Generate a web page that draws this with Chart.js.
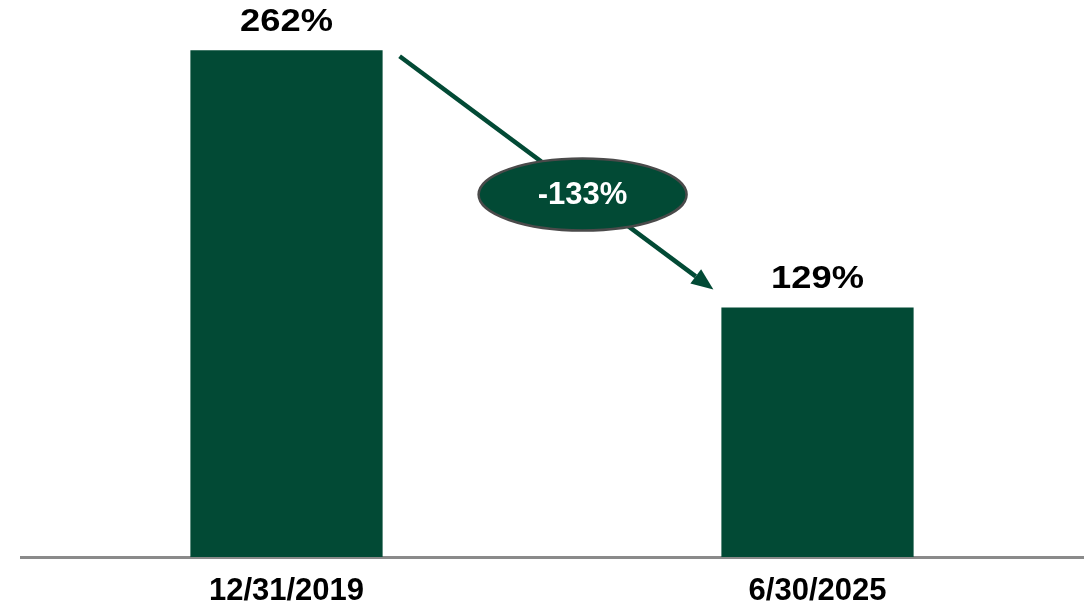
<!DOCTYPE html>
<html>
<head>
<meta charset="utf-8">
<script src="https://cdn.jsdelivr.net/npm/chart.js@4"></script>
<style>
html,body{margin:0;padding:0;background:#fff;}
#wrap{width:1086px;height:603px;}
</style>
</head>
<body>
<div id="wrap"><canvas id="c" width="1086" height="603"></canvas></div>
<script>
const categories = ["12/31/2019", "6/30/2025"];
const values = [262, 129];
const valueLabels = ["262%", "129%"];
const changeLabel = "-133%";

const green = "#024a35";

const overlay = {
  id: "overlay",
  afterDatasetsDraw(chart) {
    const ctx = chart.ctx;
    const meta = chart.getDatasetMeta(0);
    const y = chart.scales.y;
    ctx.save();
    // value labels (wide bold)
    ctx.fillStyle = "#000";
    ctx.font = "bold 31px 'Liberation Sans', Arial, sans-serif";
    ctx.textAlign = "center";
    ctx.textBaseline = "middle";
    meta.data.forEach((bar, i) => {
      const ly = y.getPixelForValue(values[i]) - 28;
      ctx.save();
      ctx.translate(bar.x, ly);
      ctx.scale(1.17, 1);
      ctx.fillText(valueLabels[i], 0, 0);
      ctx.restore();
    });
    // arrow
    const b1 = meta.data[0], b2 = meta.data[1];
    const x1 = b1.x + b1.width / 2 + 17, y1 = y.getPixelForValue(values[0]) + 6;
    const x2 = b2.x - b2.width / 2 - 8, y2 = y.getPixelForValue(values[1]) - 18;
    const ang = Math.atan2(y2 - y1, x2 - x1);
    const headLen = 22, headW = 9;
    const bx = x2 - headLen * Math.cos(ang), by = y2 - headLen * Math.sin(ang);
    ctx.strokeStyle = green;
    ctx.lineWidth = 4.5;
    ctx.beginPath();
    ctx.moveTo(x1, y1);
    ctx.lineTo(bx, by);
    ctx.stroke();
    ctx.fillStyle = green;
    ctx.beginPath();
    ctx.moveTo(x2, y2);
    ctx.lineTo(bx + headW * Math.sin(ang), by - headW * Math.cos(ang));
    ctx.lineTo(bx - headW * Math.sin(ang), by + headW * Math.cos(ang));
    ctx.closePath();
    ctx.fill();
    // ellipse
    const t = 0.58;
    const cx = x1 + (x2 - x1) * t + 1, cy = y1 + (y2 - y1) * t + 3;
    ctx.beginPath();
    ctx.ellipse(cx, cy, 104, 36, 0, 0, Math.PI * 2);
    ctx.fillStyle = green;
    ctx.fill();
    ctx.strokeStyle = "#4a4a4a";
    ctx.lineWidth = 2.5;
    ctx.stroke();
    ctx.fillStyle = "#fff";
    ctx.font = "bold 31px 'Liberation Sans', Arial, sans-serif";
    ctx.fillText(changeLabel, cx, cy + 1);
    ctx.restore();
  }
};

new Chart(document.getElementById("c"), {
  type: "bar",
  data: {
    labels: categories,
    datasets: [{
      data: values,
      backgroundColor: green,
      borderWidth: 0,
      barPercentage: 0.362,
      categoryPercentage: 1.0
    }]
  },
  options: {
    responsive: false,
    animation: false,
    layout: { padding: { left: 21, right: 3, top: 0, bottom: 0 } },
    plugins: { legend: { display: false }, tooltip: { enabled: false } },
    scales: {
      x: {
        grid: { display: false, drawTicks: false },
        border: { display: true, color: "#8a8a8a", width: 3 },
        afterFit: (scale) => { scale.height = 46; },
        ticks: {
          color: "#000",
          padding: 16,
          font: { family: "'Liberation Sans', Arial, sans-serif", weight: "bold", size: 31 }
        }
      },
      y: {
        display: false,
        min: 0,
        max: 288
      }
    }
  },
  plugins: [overlay]
});
</script>
</body>
</html>
